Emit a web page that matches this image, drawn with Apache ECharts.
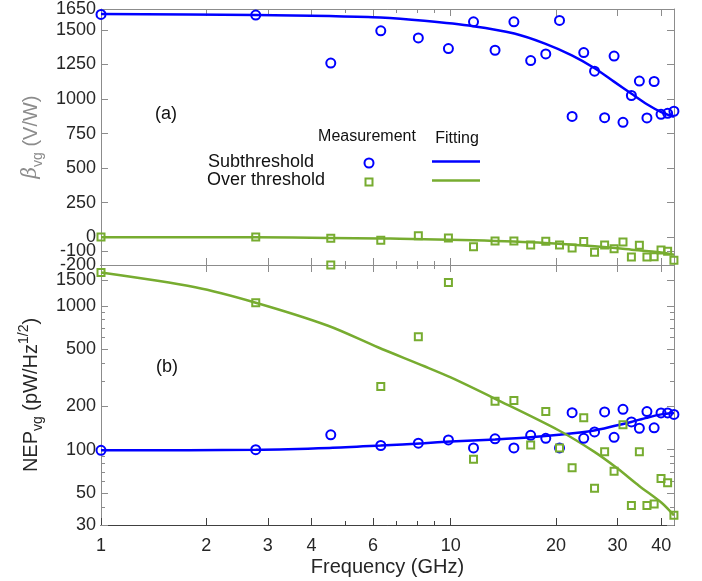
<!DOCTYPE html>
<html>
<head>
<meta charset="utf-8">
<script src="https://cdn.jsdelivr.net/npm/echarts@6/dist/echarts.min.js"></script>
<style>
  html, body { margin: 0; padding: 0; background: #fff; }
  #chart { width: 702px; height: 581px; }
</style>
</head>
<body>
<div id="chart"></div>
<script>
// measured points (GHz)
const freqs = [1, 2.77, 4.54, 6.31, 8.08, 9.85, 11.62, 13.39, 15.16, 16.93, 18.7, 20.47, 22.24,
  24.01, 25.78, 27.55, 29.32, 31.09, 32.86, 34.63, 36.4, 38.17, 39.94, 41.71, 43.48];
const betaSub = [1611, 1606, 1259, 1492, 1441, 1364, 1557, 1352, 1557, 1277, 1325, 1567, 874,
  1335, 1201, 865, 1310, 831, 1025, 1129, 863, 1126, 889, 896, 911];
const betaOver = [2, 2, -7, -22, 12, -5, -68, -27, -27, -56, -29, -56, -78,
  -31, -107, -56, -82, -34, -143, -58, -143, -140, -92, -100, -165];
const nepSub = [99, 100, 127, 107, 111, 117, 103, 119, 103, 126, 120, 103, 181,
  120, 133, 183, 122, 191, 156, 141, 184, 142, 180, 180, 176];
const nepOver = [1700, 1049, 1920, 275, 609, 1452, 86, 217, 220, 108, 184, 103, 75,
  167, 54, 97, 71, 149, 41, 97, 41, 42, 63, 59, 35];

// fitting curves
const betaSubFitF = [1, 2.77, 4.5, 6.3, 8.4, 11.6, 15.2, 18.6, 22.2, 25.8, 29.3, 32.9, 36.4, 40, 43.5];
const betaSubFit = [1613, 1607, 1599, 1589, 1565, 1526, 1473, 1400, 1315, 1222, 1125, 1037, 962, 905, 870];
const betaOverFitF = [1, 2.77, 4.5, 6.3, 7.15, 11.6, 18.6, 25.8, 32.9, 40, 43.5];
const betaOverFit = [0, 0, -4, -8, -10, -22, -41, -65, -89, -110, -126];
const nepSubFitF = [1, 2.77, 4.5, 6.3, 8.4, 10, 13.4, 16.9, 20.4, 25.7, 29.3, 32.8, 36.4, 40, 43.5];
const nepSubFit = [99, 100, 103, 107, 111, 114, 118, 122, 127, 136, 146, 156, 167, 176, 180];
const nepOverFitF = [1, 1.86, 2.77, 4.46, 6.19, 8.41, 10, 13.4, 20.4, 25.7, 30, 34.6, 40, 43.5];
const nepOverFit = [1700, 1343, 1049, 726, 515, 380, 318, 226, 136, 97, 74, 56, 43, 35];

// ticks
const xMajor = [1, 2, 3, 4, 6, 10, 20, 30, 40];
const xMinor = [5, 7, 8, 9];
const betaTicks = [-200, -100, 0, 250, 500, 750, 1000, 1250, 1500, 1650];
// -100 gets its own label axis, otherwise it is dropped as overlapping
const betaLabels = [-200, 0, 250, 500, 750, 1000, 1250, 1500, 1650];
const betaLabelsExtra = [-100];
const nepMajor = [30, 50, 100, 200, 500, 1000, 1500];
const nepMinor = [40, 60, 70, 80, 90, 300, 400, 600, 700, 800, 900];

const L = Math.log10;
const xRange = [1, 43.5];
const betaRange = [-200, 1650];
const nepRange = [30, 1920];

const BLUE = '#0000ff';
const GREEN = '#77ac30';
const GREY = '#8c8c8c';
const DARK = '#404040';
const FONT = 'Liberation Sans';

const logFmt = v => String(Math.round(Math.pow(10, v)));
const linFmt = v => String(v);

function xAxis(grid, position, ticks, len, color, showLabel) {
  return {
    type: 'value', gridIndex: grid, position: position,
    min: L(xRange[0]), max: L(xRange[1]),
    axisLine: { show: true, onZero: false, lineStyle: { color: color, width: 1 } },
    axisTick: { show: true, inside: true, length: len, customValues: ticks.map(L), lineStyle: { color: color } },
    axisLabel: {
      show: showLabel, customValues: ticks.map(L), formatter: logFmt, margin: 12,
      hideOverlap: false, showMinLabel: true, showMaxLabel: true,
      color: '#262626', fontSize: 18, fontFamily: FONT
    },
    splitLine: { show: false }
  };
}

function yAxis(grid, position, range, ticks, len, log, labels) {
  const vals = log ? ticks.map(L) : ticks;
  const labelVals = labels ? (log ? labels.map(L) : labels) : vals;
  return {
    type: 'value', gridIndex: grid, position: position,
    min: log ? L(range[0]) : range[0], max: log ? L(range[1]) : range[1],
    axisLine: { show: true, onZero: false, lineStyle: { color: GREY, width: 1 } },
    axisTick: { show: true, inside: true, length: len, customValues: vals, lineStyle: { color: GREY } },
    axisLabel: {
      show: !!labels, customValues: labelVals, formatter: log ? logFmt : linFmt, margin: 5,
      hideOverlap: false, showMinLabel: true, showMaxLabel: true,
      color: '#262626', fontSize: 18, fontFamily: FONT
    },
    splitLine: { show: false }
  };
}

function pts(fs, vs, log) {
  return fs.map((f, i) => [L(f), log ? L(vs[i]) : vs[i]]);
}

const xAxes = [
  xAxis(0, 'bottom', xMajor, 7, GREY, false),
  xAxis(0, 'bottom', xMinor, 4, GREY, false),
  xAxis(0, 'top', xMajor, 7, GREY, false),
  xAxis(0, 'top', xMinor, 4, GREY, false),
  xAxis(1, 'bottom', xMajor, 7, DARK, true),
  xAxis(1, 'bottom', xMinor, 4, DARK, false),
  xAxis(1, 'top', xMajor, 7, GREY, false),
  xAxis(1, 'top', xMinor, 4, GREY, false)
];
xAxes[4].name = 'Frequency (GHz)';
xAxes[4].nameLocation = 'middle';
xAxes[4].nameGap = 32;
xAxes[4].nameTextStyle = { color: '#262626', fontSize: 20, fontFamily: FONT };

const yAxes = [
  yAxis(0, 'left', betaRange, betaTicks, 7, false, betaLabels),
  yAxis(0, 'right', betaRange, betaTicks, 7, false, null),
  yAxis(1, 'left', nepRange, nepMajor, 7, true, nepMajor),
  yAxis(1, 'left', nepRange, nepMinor, 4, true, null),
  yAxis(1, 'right', nepRange, nepMajor, 7, true, null),
  yAxis(1, 'right', nepRange, nepMinor, 4, true, null),
  yAxis(0, 'left', betaRange, betaLabelsExtra, 7, false, betaLabelsExtra)
];
yAxes[6].axisLine.show = false;
yAxes[6].axisTick.show = false;

yAxes[0].name = '{b|β}{s|vg} (V/W)';
yAxes[0].nameLocation = 'middle';
yAxes[0].nameGap = 54;
yAxes[0].nameTextStyle = {
  color: '#8c8c8c', fontSize: 20, fontFamily: FONT, lineHeight: 28,
  rich: {
    b: { color: '#8c8c8c', fontSize: 20, fontStyle: 'italic', fontFamily: 'DejaVu Serif', lineHeight: 28 },
    s: { color: '#8c8c8c', fontSize: 14, fontFamily: FONT, verticalAlign: 'bottom', lineHeight: 28 }
  }
};
yAxes[2].name = 'NEP{s|vg} (pW/Hz{p|1/2})';
yAxes[2].nameLocation = 'middle';
yAxes[2].nameGap = 53;
yAxes[2].nameTextStyle = {
  color: '#262626', fontSize: 20, fontFamily: FONT, lineHeight: 28,
  rich: {
    s: { color: '#262626', fontSize: 14, fontFamily: FONT, verticalAlign: 'bottom', lineHeight: 28 },
    p: { color: '#262626', fontSize: 14, fontFamily: FONT, verticalAlign: 'top', lineHeight: 28 }
  }
};

function scatter(name, data, grid, yIdx, color, symbol, size) {
  return {
    name: name, type: 'scatter', xAxisIndex: grid === 0 ? 0 : 4, yAxisIndex: yIdx,
    data: data, symbol: symbol, symbolSize: size, clip: false, silent: true,
    itemStyle: { color: 'rgba(0,0,0,0)', borderColor: color, borderWidth: 2, opacity: 1 },
    z: 3
  };
}

function fitLine(name, data, grid, yIdx, color) {
  return {
    name: name, type: 'line', xAxisIndex: grid === 0 ? 0 : 4, yAxisIndex: yIdx,
    data: data, smooth: 0.3, showSymbol: false, symbol: 'none', silent: true,
    lineStyle: { color: color, width: 2.5 }, itemStyle: { color: color },
    z: 2
  };
}

// icons padded inside their box so the drawn size matches the figure
const squareIcon = 'path://M0,0M9,9M1,1h7v7h-7z';
const lineIcon = 'path://M0,0M48,9M0,3.25h48v2.5h-48z';

const option = {
  backgroundColor: '#fff',
  animation: false,
  grid: [
    { left: 101, top: 8, width: 573, height: 257 },
    { left: 101, top: 265, width: 573, height: 260 }
  ],
  xAxis: xAxes,
  yAxis: yAxes,
  legend: [
    {
      orient: 'vertical', left: 363.5, top: 157.5, padding: 0, itemGap: 8,
      itemWidth: 9, itemHeight: 9, selectedMode: false, formatter: () => '',
      textStyle: { fontSize: 9 },
      data: [
        { name: 'Subthreshold', icon: 'circle', itemStyle: { color: 'rgba(0,0,0,0)', borderColor: BLUE, borderWidth: 2 } },
        { name: 'Over threshold', icon: squareIcon, itemStyle: { color: 'rgba(0,0,0,0)', borderColor: GREEN, borderWidth: 2 } }
      ]
    },
    {
      orient: 'vertical', left: 432, top: 157, padding: 0, itemGap: 10,
      itemWidth: 48, itemHeight: 9, selectedMode: false, formatter: () => '',
      textStyle: { fontSize: 9 },
      data: [
        { name: 'Subthreshold fit', icon: lineIcon, itemStyle: { color: BLUE, borderWidth: 0 } },
        { name: 'Over threshold fit', icon: lineIcon, itemStyle: { color: GREEN, borderWidth: 0 } }
      ]
    }
  ],
  graphic: [
    { type: 'text', x: 367, y: 137, style: { text: 'Measurement', align: 'center', verticalAlign: 'middle', font: '16px "Liberation Sans"', fill: '#111' } },
    { type: 'text', x: 457, y: 139, style: { text: 'Fitting', align: 'center', verticalAlign: 'middle', font: '16px "Liberation Sans"', fill: '#111' } },
    { type: 'text', x: 208, y: 162, style: { text: 'Subthreshold', align: 'left', verticalAlign: 'middle', font: '18px "Liberation Sans"', fill: '#111' } },
    { type: 'text', x: 207, y: 180, style: { text: 'Over threshold', align: 'left', verticalAlign: 'middle', font: '18px "Liberation Sans"', fill: '#111' } },
    { type: 'text', x: 166, y: 114, style: { text: '(a)', align: 'center', verticalAlign: 'middle', font: '18px "Liberation Sans"', fill: '#111' } },
    { type: 'text', x: 167, y: 367, style: { text: '(b)', align: 'center', verticalAlign: 'middle', font: '18px "Liberation Sans"', fill: '#111' } }
  ],
  series: [
    fitLine('Subthreshold fit', pts(betaSubFitF, betaSubFit, false), 0, 0, BLUE),
    fitLine('Over threshold fit', pts(betaOverFitF, betaOverFit, false), 0, 0, GREEN),
    fitLine('Subthreshold fit', pts(nepSubFitF, nepSubFit, true), 1, 2, BLUE),
    fitLine('Over threshold fit', pts(nepOverFitF, nepOverFit, true), 1, 2, GREEN),
    scatter('Subthreshold', pts(freqs, betaSub, false), 0, 0, BLUE, 'circle', 9),
    scatter('Over threshold', pts(freqs, betaOver, false), 0, 0, GREEN, 'rect', 7),
    scatter('Subthreshold', pts(freqs, nepSub, true), 1, 2, BLUE, 'circle', 9),
    scatter('Over threshold', pts(freqs, nepOver, true), 1, 2, GREEN, 'rect', 7)
  ]
};

const myChart = echarts.init(document.getElementById('chart'));
myChart.setOption(option);
</script>
</body>
</html>
